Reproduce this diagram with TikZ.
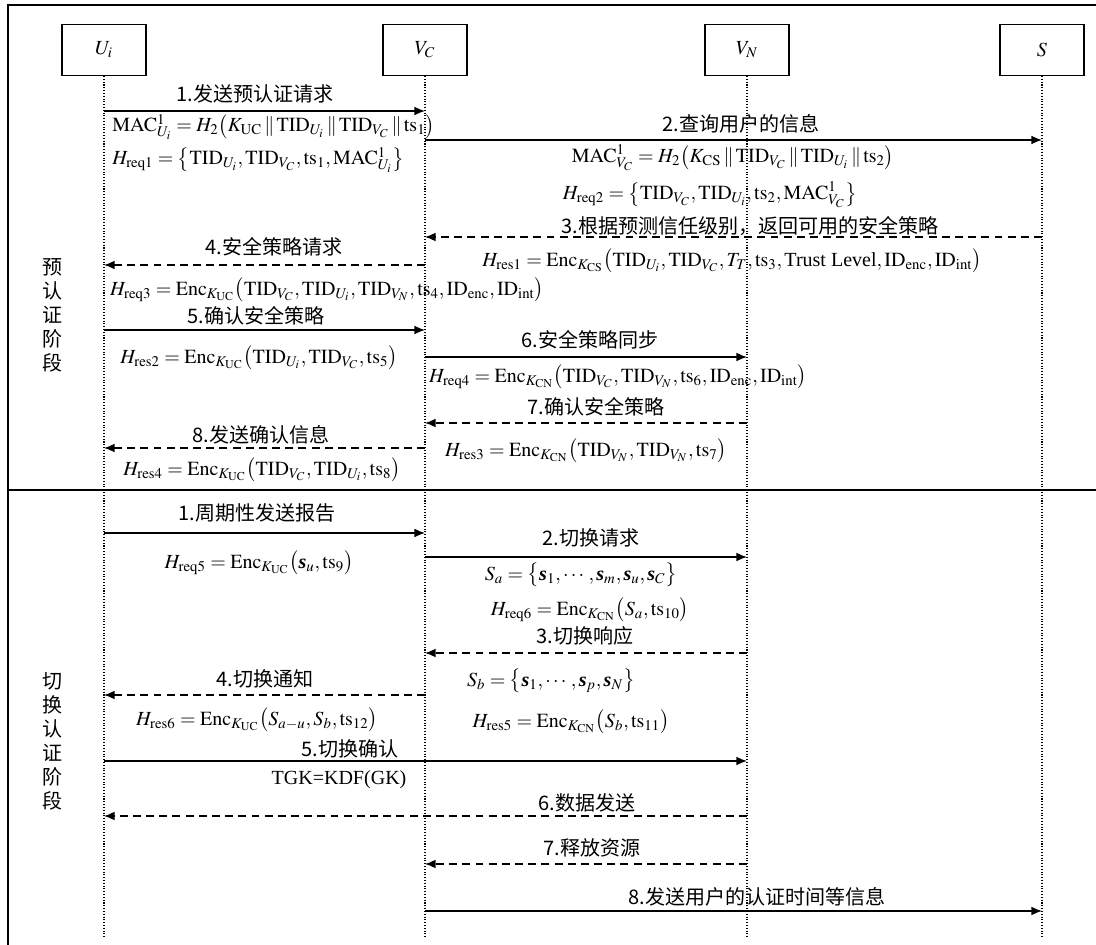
\documentclass[tikz,border=0pt]{standalone}
\usepackage{amsmath,amssymb}
\usepackage{mathptmx}
\usepackage{fontspec}
\setmainfont{Liberation Serif}
\newfontfamily\cjk{Noto Sans CJK SC}
\usetikzlibrary{positioning,arrows.meta}

\newcommand{\tid}{\mathrm{TID}}
\newcommand{\enc}{\mathrm{Enc}}
\newcommand{\mac}{\mathrm{MAC}}
\newcommand{\tsm}{\mathrm{ts}}
\newcommand{\sv}{\mathord{\text{\bfseries\itshape s}}}
\newcommand{\idm}{\mathrm{ID}}

\begin{document}
\begin{tikzpicture}[
  x=0.02cm, y=-0.02cm,
  actor/.style={draw, line width=0.6pt, minimum width=1.68cm, minimum height=1.02cm,
                inner sep=0pt, font=\fontsize{11.4}{13.7}\selectfont},
  life/.style={densely dotted, line width=0.6pt},
  call/.style={-{Latex[length=6pt,width=5pt]}, line width=0.8pt},
  reply/.style={call, dash pattern=on 4.5pt off 3pt},
  msg/.style={inner sep=0pt, font=\fontsize{11.4}{13.7}\selectfont\cjk},
  eq/.style={inner sep=0pt, font=\fontsize{11.4}{13.7}\selectfont},
  phase/.style={inner sep=0pt, align=center, font=\fontsize{11.4}{13.66}\selectfont\cjk},
  frame/.style={line width=1.1pt},
  sep/.style={line width=0.85pt}
]
\useasboundingbox (0,0) rectangle (1096,945);

% frame and phase separator
\draw[frame] (8,945) -- (8,5) -- (1096,5);
\draw[sep] (8,490) -- (1096,490);

% participants
\node[actor] (Ui) at (104,50) {$U_i$};
\node[actor, right=4.72cm of Ui] (Vc) {$V_C$};
\node[actor, right=4.74cm of Vc] (Vn) {$V_N$};
\node[actor, right=4.2cm of Vn] (Srv) {$S$};

\foreach \who in {Ui,Vc,Vn,Srv} {
  \coordinate (\who end) at (\who |- 0,938);
  \draw[life] (\who.south) -- (\who end);
}

% messages
\foreach \src/\dst/\yy/\kind [count=\k] in {
    Ui/Vc/111/call, Vc/Srv/140/call, Srv/Vc/237/reply, Vc/Ui/265/reply,
    Ui/Vc/330/call, Vc/Vn/357/call, Vn/Vc/423/reply, Vc/Ui/448/reply,
    Ui/Vc/533/call, Vc/Vn/557/call, Vn/Vc/653/reply, Vc/Ui/695/reply,
    Ui/Vn/761/call, Vn/Ui/816/reply, Vn/Vc/864/reply, Vc/Srv/911/call} {
  \coordinate (m\k a) at (\src |- 0,\yy);
  \coordinate (m\k b) at (\dst |- 0,\yy);
  \draw[\kind] (m\k a) -- (m\k b);
}

% phase names
\node[phase] (prephase) at (53,315) {预\\认\\证\\阶\\段};
\node[phase] (hophase) at (53,741) {切\\换\\认\\证\\阶\\段};

% pre-authentication
\node[msg] (pre1) at (255,94) {1.发送预认证请求};
\node[eq, anchor=west] (mac1) at (112,127)
  {$\mac^{1}_{U_i}=H_2\bigl(K_{\mathrm{UC}}\,\|\,\tid_{U_i}\,\|\,\tid_{V_C}\,\|\,\tsm_1\bigr)$};
\node[eq, anchor=west] (req1) at (112,160)
  {$H_{\mathrm{req1}}=\bigl\{\tid_{U_i},\tid_{V_C},\tsm_1,\mac^{1}_{U_i}\bigr\}$};
\node[msg] (pre2) at (741,124) {2.查询用户的信息};
\node[eq] (mac2) at (733,158)
  {$\mac^{1}_{V_C}=H_2\bigl(K_{\mathrm{CS}}\,\|\,\tid_{V_C}\,\|\,\tid_{U_i}\,\|\,\tsm_2\bigr)$};
\node[eq] (req2) at (710,195)
  {$H_{\mathrm{req2}}=\bigl\{\tid_{V_C},\tid_{U_i},\tsm_2,\mac^{1}_{V_C}\bigr\}$};
\node[msg] (pre3) at (750,226) {3.根据预测信任级别，返回可用的安全策略};
\node[eq] (res1) at (732,261)
  {$H_{\mathrm{res1}}=\enc_{K_{\mathrm{CS}}}\bigl(\tid_{U_i},\tid_{V_C},T_T,\tsm_3,\text{Trust Level},\idm_{\mathrm{enc}},\idm_{\mathrm{int}}\bigr)$};
\node[msg] (pre4) at (274,247) {4.安全策略请求};
\node[eq] (req3) at (327,290)
  {$H_{\mathrm{req3}}=\enc_{K_{\mathrm{UC}}}\bigl(\tid_{V_C},\tid_{U_i},\tid_{V_N},\tsm_4,\idm_{\mathrm{enc}},\idm_{\mathrm{int}}\bigr)$};
\node[msg] (pre5) at (256,316) {5.确认安全策略};
\node[eq] (res2) at (259,358)
  {$H_{\mathrm{res2}}=\enc_{K_{\mathrm{UC}}}\bigl(\tid_{U_i},\tid_{V_C},\tsm_5\bigr)$};
\node[msg] (pre6) at (590,340) {6.安全策略同步};
\node[eq] (req4) at (618,377)
  {$H_{\mathrm{req4}}=\enc_{K_{\mathrm{CN}}}\bigl(\tid_{V_C},\tid_{V_N},\tsm_6,\idm_{\mathrm{enc}},\idm_{\mathrm{int}}\bigr)$};
\node[msg] (pre7) at (596,407) {7.确认安全策略};
\node[eq] (res3) at (586,451)
  {$H_{\mathrm{res3}}=\enc_{K_{\mathrm{CN}}}\bigl(\tid_{V_N},\tid_{V_N},\tsm_7\bigr)$};
\node[msg] (pre8) at (261,435) {8.发送确认信息};
\node[eq] (res4) at (262,470)
  {$H_{\mathrm{res4}}=\enc_{K_{\mathrm{UC}}}\bigl(\tid_{V_C},\tid_{U_i},\tsm_8\bigr)$};

% handover authentication
\node[msg] (ho1) at (257,513) {1.周期性发送报告};
\node[eq] (req5) at (259,563) {$H_{\mathrm{req5}}=\enc_{K_{\mathrm{UC}}}\bigl(\sv_u,\tsm_9\bigr)$};
\node[msg] (ho2) at (591,538) {2.切换请求};
\node[eq] (setA) at (581,575) {$S_a=\bigl\{\sv_1,\cdots,\sv_m,\sv_u,\sv_C\bigr\}$};
\node[eq] (req6) at (590,610) {$H_{\mathrm{req6}}=\enc_{K_{\mathrm{CN}}}\bigl(S_a,\tsm_{10}\bigr)$};
\node[msg] (ho3) at (585,636) {3.切换响应};
\node[eq] (setB) at (551,681) {$S_b=\bigl\{\sv_1,\cdots,\sv_p,\sv_N\bigr\}$};
\node[eq] (res5) at (571,722) {$H_{\mathrm{res5}}=\enc_{K_{\mathrm{CN}}}\bigl(S_b,\tsm_{11}\bigr)$};
\node[msg] (ho4) at (265,679) {4.切换通知};
\node[eq] (res6) at (257,720) {$H_{\mathrm{res6}}=\enc_{K_{\mathrm{UC}}}\bigl(S_{a-u},S_b,\tsm_{12}\bigr)$};
\node[msg] (ho5) at (350,749) {5.切换确认};
\node[eq] (tgk) at (339,780) {TGK=KDF(GK)};
\node[msg] (ho6) at (587,803) {6.数据发送};
\node[msg] (ho7) at (592,848) {7.释放资源};
\node[msg] (ho8) at (757,897) {8.发送用户的认证时间等信息};

\end{tikzpicture}
\end{document}
